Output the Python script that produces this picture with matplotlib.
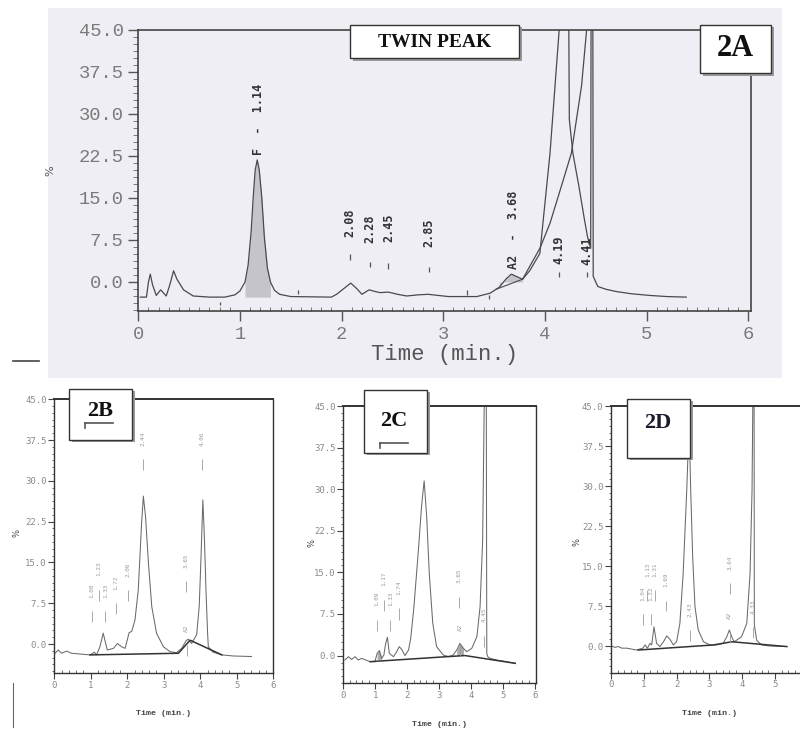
import matplotlib
matplotlib.use('Agg')
import matplotlib.pyplot as plt
from matplotlib.patches import Rectangle
from matplotlib.lines import Line2D
from matplotlib.ticker import MultipleLocator, FormatStrFormatter

W, H = 800, 729

# ---- 2A : twin peak chromatogram (time in min, signal in %) ----
t_a = [0.02, 0.08, 0.10, 0.118, 0.14, 0.177, 0.22, 0.275, 0.31, 0.347, 0.38, 0.445, 0.54, 0.70,
       0.85, 0.95, 1.00, 1.05, 1.08, 1.11, 1.13, 1.15, 1.17, 1.19, 1.215, 1.24, 1.27, 1.30, 1.34,
       1.39, 1.50, 1.90, 1.95, 2.02, 2.09, 2.15, 2.20, 2.27, 2.33, 2.38, 2.46, 2.55, 2.64, 2.75,
       2.85, 2.95, 3.05, 3.33, 3.46, 3.55, 3.62, 3.67, 3.73, 3.78, 3.85, 3.95, 4.05, 4.14, 4.18,
       4.23, 4.24, 4.275, 4.335, 4.39, 4.42, 4.45, 4.455, 4.47, 4.475, 4.52, 4.60, 4.70, 4.85,
       5.03, 5.20, 5.39]
v_a = [-2.7, -2.7, 0.0, 1.4, -0.5, -2.4, -1.4, -2.5, -0.5, 2.0, 0.5, -1.4, -2.5, -2.7,
       -2.7, -2.3, -1.6, 0.0, 3.0, 9.0, 15.0, 20.0, 21.8, 20.0, 15.0, 8.0, 2.5, 0.0, -1.5,
       -2.2, -2.6, -2.7, -2.2, -1.2, -0.2, -1.2, -2.2, -1.4, -1.7, -1.9, -1.8, -2.2, -2.5, -2.3,
       -2.2, -2.4, -2.6, -2.6, -2.0, -0.95, 0.6, 1.4, 0.9, 0.5, 2.0, 5.1, 23.0, 45.0, 60.0,
       60.0, 29.0, 23.0, 17.0, 11.0, 8.0, 6.0, 60.0, 60.0, 1.0, -0.8, -1.3, -1.7, -2.1,
       -2.4, -2.6, -2.7]
skim_t_a = [3.78, 3.95, 4.05, 4.16, 4.26, 4.36, 4.41, 4.43]
skim_v_a = [0.5, 6.0, 10.5, 17.0, 23.0, 35.0, 45.0, 60.0]
drop_t_a = [3.52, 3.78]
drop_v_a = [-1.3, 0.5]
peak_lab_a = ["F  -  1.14", "2.08", "2.28", "2.45", "2.85", "A2  -  3.68", "4.19", "4.41"]
peak_t_a = [1.18, 2.083, 2.275, 2.46, 2.855, 3.69, 4.14, 4.41]
peak_v_a = [22.6, 8.1, 6.9, 7.2, 6.3, 2.3, 3.3, 3.1]
mark_t_a = [2.083, 2.275, 2.46, 2.855, 4.14, 4.41, 0.80, 1.57, 3.23, 3.45]
mark_top_a = [5.0, 3.6, 3.4, 2.7, 1.8, 1.8, -3.5, -1.4, -1.5, -2.3]
mark_bot_a = [3.9, 2.6, 2.3, 1.8, 0.9, 0.9, -4.1, -2.1, -2.3, -3.0]

# ---- 2B ----
t_b = [0.02, 0.11, 0.20, 0.34, 0.47, 0.80, 0.98, 1.10, 1.16, 1.25, 1.34, 1.45, 1.62, 1.73, 1.84,
       1.94, 2.05, 2.12, 2.21, 2.30, 2.39, 2.44, 2.50, 2.58, 2.67, 2.80, 2.99, 3.17, 3.35, 3.49,
       3.61, 3.67, 3.76, 3.90, 3.97, 4.02, 4.07, 4.11, 4.16, 4.20, 4.22, 4.35, 4.60, 4.90, 5.40]
v_b = [-1.7, -1.1, -1.7, -1.3, -1.7, -1.9, -2.0, -1.5, -2.0, -0.5, 2.0, -1.1, -0.8, 0.1, -0.5,
       -0.8, 2.1, 2.3, 4.4, 9.9, 22.0, 27.2, 23.4, 14.8, 6.9, 2.0, -0.5, -1.4, -1.6, -0.8,
       0.6, 0.9, 0.1, 1.7, 6.9, 16.0, 26.5, 20.0, 9.0, 2.0, -0.5, -1.5, -2.0, -2.2, -2.3]
base_t_b = [0.98, 3.40, 3.72, 4.59]
base_v_b = [-2.0, -1.7, 0.7, -2.0]
peak_lab_b = ["1.08", "1.23", "1.33", "1.72", "2.06", "2.44", "3.65", "A2", "4.06"]
peak_t_b = [1.02, 1.22, 1.40, 1.69, 2.03, 2.44, 3.61, 3.63, 4.05]
peak_v_b = [8.5, 12.5, 8.5, 10.0, 12.4, 36.5, 14.0, 2.3, 36.5]

# ---- 2C ----
t_c = [0.05, 0.16, 0.26, 0.37, 0.47, 0.57, 0.84, 0.99, 1.06, 1.13, 1.20, 1.27, 1.32, 1.38, 1.44,
       1.57, 1.67, 1.75, 1.83, 1.93, 2.04, 2.11, 2.21, 2.35, 2.45, 2.53, 2.61, 2.69, 2.80, 2.92,
       3.13, 3.29, 3.44, 3.55, 3.65, 3.76, 3.86, 4.02, 4.18, 4.28, 4.36, 4.44, 4.47, 4.49, 4.52,
       4.59, 4.80, 5.11, 5.38]
v_c = [-0.8, -0.2, -0.7, -0.2, -0.8, -0.5, -1.1, -1.1, 0.4, 0.9, -0.5, 0.1, 2.0, 3.3, 0.4,
       -0.2, 0.7, 1.6, 1.1, 0.0, 1.0, 3.1, 8.8, 19.0, 27.0, 31.5, 25.0, 14.8, 5.8, 1.6,
       0.1, -0.2, 0.1, 1.0, 2.2, 1.3, 0.7, 1.3, 3.4, 8.8, 20.8, 60.0, 60.0, 0.4, -0.2,
       -0.5, -0.8, -1.1, -1.4]
base_t_c = [0.84, 3.24, 3.81, 5.38]
base_v_c = [-1.1, -0.2, 0.0, -1.4]
peak_lab_c = ["1.09", "1.17", "1.33", "1.74", "3.65", "A2", "4.45"]
peak_t_c = [1.05, 1.26, 1.47, 1.75, 3.63, 3.65, 4.40]
peak_v_c = [9.0, 12.5, 9.0, 11.0, 13.0, 4.5, 6.0]

# ---- 2D ----
t_d = [0.02, 0.12, 0.22, 0.33, 0.48, 0.78, 0.97, 1.04, 1.11, 1.19, 1.24, 1.31, 1.39, 1.49, 1.60,
       1.70, 1.80, 1.90, 2.00, 2.10, 2.20, 2.31, 2.38, 2.43, 2.49, 2.56, 2.66, 2.82, 3.02, 3.22,
       3.42, 3.53, 3.61, 3.68, 3.75, 3.83, 3.98, 4.14, 4.24, 4.30, 4.345, 4.36, 4.37, 4.44, 4.59,
       4.85, 5.36]
v_d = [0.0, -0.25, -0.1, -0.4, -0.4, -0.75, -0.4, 0.2, -0.4, 0.5, 0.2, 3.6, 0.5, -0.1, 0.8,
       1.9, 1.25, 0.2, 0.8, 4.25, 13.6, 29.3, 42.0, 29.3, 16.75, 7.4, 3.0, 0.8, 0.2, 0.2,
       0.5, 1.75, 3.0, 1.75, 0.8, 1.1, 1.75, 4.25, 13.6, 29.3, 60.0, 60.0, 4.0, 1.1, 0.2,
       0.0, -0.1]
base_t_d = [0.83, 3.12, 3.68, 5.36]
base_v_d = [-0.75, 0.2, 0.8, -0.1]
peak_lab_d = ["1.04", "1.13", "1.22", "1.31", "1.69", "2.43", "3.64", "A2", "4.33"]
peak_t_d = [0.98, 1.11, 1.21, 1.34, 1.68, 2.41, 3.63, 3.62, 4.33]
peak_v_d = [8.5, 13.0, 8.5, 13.0, 11.0, 5.5, 14.3, 5.0, 6.0]

yticks = [0.0, 7.5, 15.0, 22.5, 30.0, 37.5, 45.0]
xticks = [0, 1, 2, 3, 4, 5, 6]


def fpos(x, y):
    return x / W, 1 - y / H


def make_ax(l, t, r, b, xlim, ylim, big):
    ax = fig.add_axes([l / W, 1 - b / H, (r - l) / W, (b - t) / H])
    ax.set_facecolor('none')
    ax.set_xlim(*xlim)
    ax.set_ylim(*ylim)
    ax.set_yticks(yticks)
    ax.set_xticks([x for x in xticks if x <= xlim[1] and l + x * (r - l) / xlim[1] < W - 4])
    ax.yaxis.set_major_formatter(FormatStrFormatter('%.1f'))
    if big:
        ax.xaxis.set_minor_locator(MultipleLocator(0.1))
        ax.yaxis.set_minor_locator(MultipleLocator(1.25))
        ax.tick_params(which='major', direction='out', length=7, width=1, color='#555', pad=3.5,
                       labelsize=13.5, labelcolor='#7a7a7a')
        ax.tick_params(which='minor', axis='x', direction='in', length=3, color='#666')
        ax.tick_params(which='minor', axis='y', direction='out', length=3.5, color='#666')
        for lab in ax.get_xticklabels() + ax.get_yticklabels():
            lab.set_family('Liberation Mono')
        for s in ax.spines.values():
            s.set_color('#444')
            s.set_linewidth(1.2)
    else:
        ax.xaxis.set_minor_locator(MultipleLocator(0.2))
        ax.yaxis.set_minor_locator(MultipleLocator(1.25))
        ax.tick_params(which='major', direction='out', length=4, width=0.8, color='#444', pad=1.5,
                       labelsize=6.5, labelcolor='#8a8a8a')
        ax.tick_params(which='minor', axis='x', direction='in', length=2.5, color='#555')
        ax.tick_params(which='minor', axis='y', direction='out', length=1.8, color='#555')
        for lab in ax.get_xticklabels() + ax.get_yticklabels():
            lab.set_family('DejaVu Sans Mono')
        for s in ax.spines.values():
            s.set_color('#333')
            s.set_linewidth(1.0)
        ax.spines['top'].set_linewidth(1.4)
    return ax


fig = plt.figure(figsize=(W / 100, H / 100), dpi=100)
fig.patch.set_facecolor('white')

# scanned page tint behind the top chromatogram
fig.add_artist(Rectangle(fpos(48, 378), 734 / W, 370 / H, transform=fig.transFigure,
                         facecolor='#eeeef4', edgecolor='none', zorder=-5))

# ---------- 2A ----------
axA = make_ax(138.3, 30, 751.3, 311, (0, 6.03), (-5.18, 45.0), True)
axA.plot(t_a, v_a, color='#4a4a4a', lw=0.9)
axA.plot(skim_t_a, skim_v_a, color='#4a4a4a', lw=0.9)
axA.plot(drop_t_a, drop_v_a, color='#4a4a4a', lw=0.8)
axA.fill_between(t_a, v_a, -2.7, where=[1.05 <= x <= 1.30 for x in t_a],
                 color='#c4c4ca', lw=0)
axA.fill_between(t_a, v_a, 0.0, where=[3.55 <= x <= 3.78 for x in t_a],
                 color='#c4c4ca', lw=0)
for lab, x, y in zip(peak_lab_a, peak_t_a, peak_v_a):
    axA.text(x, y, lab, rotation=90, ha='center', va='bottom', fontsize=8.5,
             family='DejaVu Sans Mono', fontweight='bold', color='#333')
axA.vlines(mark_t_a, mark_bot_a, mark_top_a, color='#555', lw=0.9)
axA.set_xlabel('Time (min.)', family='Liberation Mono', fontsize=16, color='#555', labelpad=1)
axA.set_ylabel('%', fontsize=8, color='#555')
axA.yaxis.set_label_coords(-0.136, 0.50)

# ---------- 2B, 2C, 2D ----------
axB = make_ax(54.3, 399.3, 273.3, 673, (0, 6.0), (-5.33, 45.0), False)
axC = make_ax(343.3, 406, 536.0, 683.3, (0, 6.03), (-5.0, 45.0), False)
axD = make_ax(611, 406, 807.8, 672.7, (0, 6.0), (-5.0, 45.0), False)

panels = [
    (axB, t_b, v_b, base_t_b, base_v_b, peak_lab_b, peak_t_b, peak_v_b, -0.149, 0.51),
    (axC, t_c, v_c, base_t_c, base_v_c, peak_lab_c, peak_t_c, peak_v_c, -0.138, 0.505),
    (axD, t_d, v_d, base_t_d, base_v_d, peak_lab_d, peak_t_d, peak_v_d, -0.149, 0.49),
]
for ax, tt, vv, bt, bv, labs, lt, lv, yx, yy in panels:
    ax.plot(tt, vv, color='#6a6a6a', lw=0.75)
    ax.plot(bt, bv, color='#333', lw=1.1)
    for lab, x, y in zip(labs, lt, lv):
        ax.text(x, y, lab, rotation=90, ha='center', va='bottom', fontsize=4.3,
                family='DejaVu Sans Mono', color='#9a9a9a')
        ax.vlines(x, y - 4.5, y - 2.5, color='#9a9a9a', lw=0.6)
    ax.set_xlabel('Time (min.)', family='Liberation Mono', fontweight='bold', fontsize=6,
                  color='#444', labelpad=15)
    ax.set_ylabel('%', fontsize=6, color='#444')
    ax.yaxis.set_label_coords(yx, yy)

axC.fill_between(t_c, v_c, -0.7, where=[1.06 <= x <= 1.20 for x in t_c], color='#aaa', lw=0)
axC.fill_between(t_c, v_c, 0.0, where=[3.50 <= x <= 3.80 for x in t_c], color='#aaa', lw=0)


# ---------- label boxes ----------
def label_box(x0, y0, x1, y1, text, size, tx=None, ty=None, color='#111'):
    fig.add_artist(Rectangle(fpos(x0 + 2.5, y1 + 2.5), (x1 - x0) / W, (y1 - y0) / H,
                             transform=fig.transFigure, facecolor='#9a9a9a',
                             edgecolor='none', zorder=5))
    fig.add_artist(Rectangle(fpos(x0, y1), (x1 - x0) / W, (y1 - y0) / H,
                             transform=fig.transFigure, facecolor='white',
                             edgecolor='#333', lw=1.0, zorder=6))
    cx = (x0 + x1) / 2 if tx is None else tx
    cy = (y0 + y1) / 2 if ty is None else ty
    fig.text(*fpos(cx, cy), text, ha='center', va='center', fontsize=size,
             family='Liberation Serif', fontweight='bold', color=color, zorder=7)


label_box(350, 25, 519, 58, 'TWIN PEAK', 14, ty=42.5)
label_box(700, 25, 771, 73, '2A', 22, ty=49)
label_box(69, 389, 132, 440, '2B', 16, tx=100, ty=411)
label_box(364, 390, 427, 453, '2C', 16, tx=394, ty=421)
label_box(627, 399, 690, 458, '2D', 16, tx=658, ty=423, color='#1a1a30')

# little hooks under 2B / 2C
for x0, x1, y in [(85, 113, 423), (380, 408, 443)]:
    fig.add_artist(Line2D([x0 / W, x1 / W], [1 - y / H, 1 - y / H], transform=fig.transFigure,
                          color='#555', lw=1.2, zorder=8))
    fig.add_artist(Line2D([x0 / W, x0 / W], [1 - y / H, 1 - (y + 5) / H],
                          transform=fig.transFigure, color='#555', lw=1.2, zorder=8))

# scan leftovers on the page margin
fig.add_artist(Line2D([13 / W, 39 / W], [1 - 361 / H, 1 - 361 / H], transform=fig.transFigure,
                      color='#444', lw=1.2))
fig.add_artist(Line2D([13 / W, 13 / W], [1 - 683 / H, 1 - 727 / H], transform=fig.transFigure,
                      color='#666', lw=0.8))

fig.savefig('out.png', dpi=100)
